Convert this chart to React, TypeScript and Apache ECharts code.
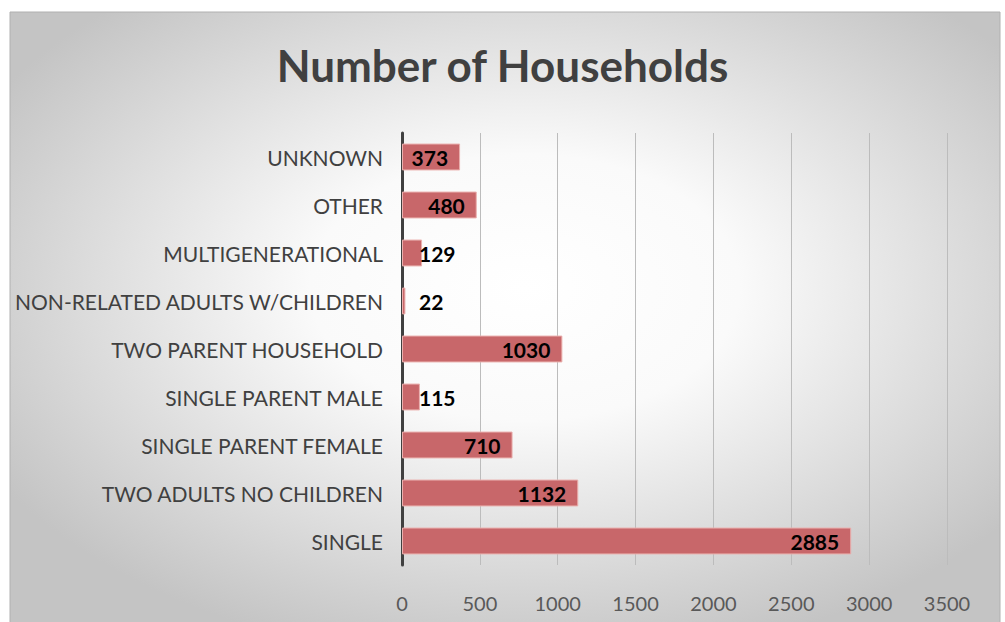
import React, { useEffect, useRef } from "react";
import * as echarts from "echarts";

const categories = [
  "SINGLE",
  "TWO ADULTS NO CHILDREN",
  "SINGLE PARENT FEMALE",
  "SINGLE PARENT MALE",
  "TWO PARENT HOUSEHOLD",
  "NON-RELATED ADULTS W/CHILDREN",
  "MULTIGENERATIONAL",
  "OTHER",
  "UNKNOWN",
];
const values = [2885, 1132, 710, 115, 1030, 22, 129, 480, 373];
const outsideLabelThreshold = 200;

export default function App() {
  const ref = useRef<HTMLDivElement>(null);
  useEffect(() => {
    if (!ref.current) return;
    const chart = echarts.init(ref.current, null, { renderer: "svg" });
    const data = values.map((v) => {
      if (v < outsideLabelThreshold) {
        return {
          value: v,
          label: { position: [17, "50%"], align: "left", verticalAlign: "middle" },
        };
      }
      return { value: v };
    });
    chart.setOption({
      animation: false,
      graphic: [
        {
          type: "rect",
          z: -10,
          silent: true,
          shape: { x: 10, y: 12, width: 990, height: 612 },
          style: {
            fill: {
              type: "radial",
              x: 0.52,
              y: 0.45,
              r: 0.62,
              colorStops: [
                { offset: 0, color: "#ffffff" },
                { offset: 0.35, color: "#fafafa" },
                { offset: 1, color: "#c4c4c4" },
              ],
            },
            stroke: "#b0b0b0",
            lineWidth: 1,
          },
        },
      ],
      title: {
        text: "Number of Households",
        left: "center",
        top: 38,
        textStyle: {
          fontFamily: "Lato",
          fontWeight: "bold",
          fontSize: 44,
          color: "#404040",
        },
      },
      grid: { left: 402, right: 58, top: 133, bottom: 57 },
      xAxis: {
        type: "value",
        min: 0,
        max: 3500,
        interval: 500,
        axisLine: { show: false },
        axisTick: { show: false },
        axisLabel: {
          margin: 28,
          fontFamily: "Lato",
          fontSize: 20,
          color: "#595959",
          formatter: (v: number) => String(v),
        },
        splitLine: { show: true, lineStyle: { color: "#bcbcbc", width: 1 } },
      },
      yAxis: {
        type: "category",
        data: categories,
        axisLine: { show: true, lineStyle: { color: "#404040", width: 3 } },
        axisTick: { show: false },
        axisLabel: {
          margin: 19,
          fontFamily: "Lato",
          fontSize: 21,
          color: "#404040",
        },
      },
      series: [
        {
          type: "bar",
          data,
          barCategoryGap: "44%",
          itemStyle: {
            color: "#c8676a",
            borderColor: "#eab0ae",
            borderWidth: 1,
          },
          label: {
            show: true,
            position: "insideRight",
            distance: 12,
            fontFamily: "Lato",
            fontWeight: "bold",
            fontSize: 21,
            color: "#000000",
          },
        },
      ],
    });
    return () => chart.dispose();
  }, []);
  return (
    <div
      ref={ref}
      style={{ position: "absolute", left: 0, top: 0, width: 1005, height: 622 }}
    />
  );
}
